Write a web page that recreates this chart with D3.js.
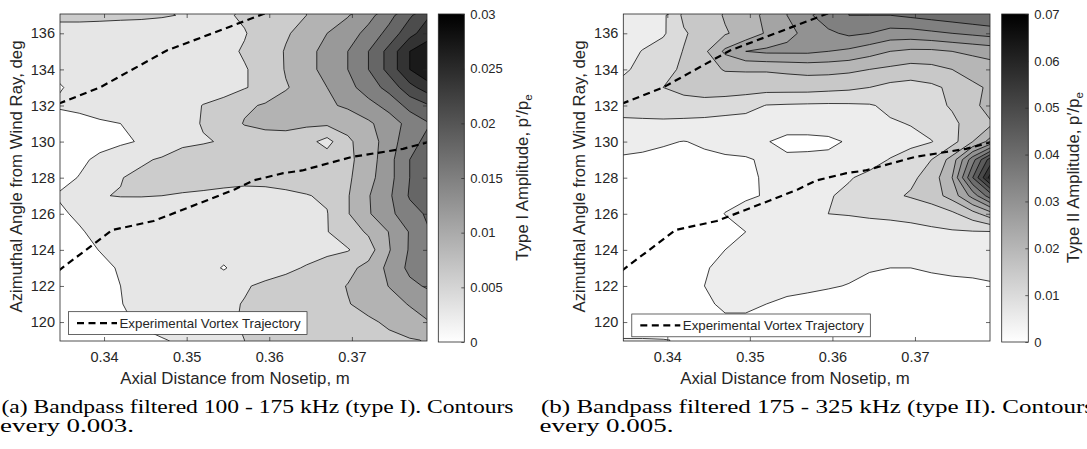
<!DOCTYPE html>
<html>
<head>
<meta charset="utf-8">
<script src="https://cdn.jsdelivr.net/npm/d3@7"></script>
<style>
  body { margin: 0; background: #fff; }
  svg { display: block; }
  text { font-family: "Liberation Sans", Arial, Helvetica, sans-serif; fill: #262626; }
  .caption { font-family: "Liberation Serif", "Times New Roman", serif; fill: #000; }
</style>
</head>
<body>
<svg id="fig" width="1087" height="449"></svg>
<script>
// measurement grid (axial distance in m, azimuthal angle in deg)
const gridX = [0.3345, 0.3370, 0.3395, 0.3420, 0.3445, 0.3470, 0.3495, 0.3520, 0.3545, 0.3570,
               0.3595, 0.3620, 0.3645, 0.3670, 0.3695, 0.3720, 0.3745, 0.3770, 0.3795];
const gridY = [137, 136, 135, 134, 133, 132, 131, 130, 129, 128, 127, 126, 125, 124, 123, 122, 121, 120, 119];
const AMP_UNIT = 0.001; // grid values below are in thousandths of p'/p_e

// type I amplitude (100 - 175 kHz), rows from 137 deg down to 119 deg
const ampTypeI = [
  [6.6, 6.6, 6.6, 6.5, 6.4, 6.2, 5.9, 5.2, 5.5, 6.5, 7.5, 8.5, 9.0, 10.5, 11.8, 14.0, 17.0, 20.5, 24.0],
  [5.0, 5.0, 4.8, 4.7, 4.7, 4.7, 4.6, 4.5, 5.0, 5.8, 7.5, 8.7, 10.0, 12.0, 13.5, 16.0, 19.0, 23.0, 26.0],
  [4.0, 4.3, 4.5, 4.5, 4.5, 4.5, 4.5, 4.6, 5.2, 6.3, 7.5, 9.2, 11.0, 13.0, 15.0, 18.0, 22.0, 27.0, 29.0],
  [3.5, 4.2, 4.5, 4.5, 4.5, 4.5, 4.5, 4.5, 4.8, 5.8, 7.0, 9.2, 11.0, 13.0, 15.0, 18.0, 22.0, 27.0, 30.0],
  [2.8, 3.6, 4.5, 4.5, 4.5, 4.5, 4.5, 4.5, 4.8, 5.8, 7.0, 8.8, 10.0, 12.0, 14.0, 16.5, 19.0, 23.0, 26.0],
  [3.3, 3.6, 4.0, 4.2, 4.3, 4.5, 4.8, 6.1, 7.0, 8.5, 9.3, 10.0, 10.5, 11.5, 12.5, 14.0, 16.0, 19.0, 21.0],
  [1.8, 2.2, 2.7, 3.0, 3.3, 4.1, 5.0, 6.2, 7.2, 9.2, 9.8, 10.0, 9.5, 9.5, 10.0, 11.5, 13.5, 16.0, 18.0],
  [1.5, 1.8, 2.2, 2.6, 3.2, 4.2, 5.5, 5.8, 6.2, 7.0, 7.5, 7.5, 7.0, 5.0, 8.5, 10.5, 13.5, 17.0, 19.0],
  [1.5, 2.5, 3.5, 4.5, 5.6, 6.3, 7.0, 7.3, 7.3, 7.0, 7.0, 7.2, 7.5, 7.5, 8.3, 10.5, 14.0, 18.0, 20.0],
  [2.2, 3.1, 5.0, 5.9, 6.6, 7.0, 7.0, 7.0, 6.8, 6.6, 6.6, 6.8, 7.0, 7.0, 8.5, 11.0, 14.0, 18.0, 21.0],
  [3.2, 4.5, 5.9, 6.1, 6.1, 6.0, 5.8, 5.6, 5.4, 5.3, 5.4, 5.6, 5.9, 6.3, 8.8, 11.8, 14.5, 18.3, 21.0],
  [2.5, 3.5, 4.2, 4.5, 4.6, 4.6, 4.6, 4.6, 4.6, 4.7, 4.8, 5.0, 5.2, 5.9, 8.8, 11.7, 14.2, 16.9, 18.6],
  [1.8, 2.7, 3.8, 4.3, 4.5, 4.5, 4.5, 4.5, 4.5, 4.6, 4.7, 4.9, 5.3, 5.9, 7.6, 9.4, 12.1, 15.2, 18.0],
  [1.5, 2.0, 3.1, 4.0, 4.5, 4.5, 4.5, 4.5, 4.5, 4.6, 4.7, 4.8, 5.0, 5.3, 5.8, 7.7, 11.8, 15.3, 18.2],
  [1.2, 1.5, 2.2, 3.3, 4.2, 4.5, 4.6, 4.5, 2.7, 4.7, 5.0, 5.5, 6.2, 7.2, 8.3, 9.8, 12.8, 15.7, 18.3],
  [1.2, 1.4, 2.0, 3.0, 4.0, 4.5, 4.6, 4.8, 5.2, 5.8, 6.4, 6.9, 7.4, 8.2, 9.1, 10.2, 12.1, 14.3, 15.5],
  [1.0, 1.3, 2.0, 2.9, 3.8, 4.4, 4.8, 5.3, 5.6, 6.1, 6.8, 7.2, 7.6, 8.2, 8.9, 9.6, 10.8, 12.2, 13.5],
  [1.0, 1.2, 1.8, 2.6, 3.3, 4.2, 4.9, 5.4, 5.8, 6.1, 6.6, 7.0, 7.4, 7.9, 8.3, 8.7, 9.3, 10.7, 12.0],
  [1.0, 1.2, 1.6, 2.1, 2.4, 2.8, 3.5, 4.5, 5.3, 6.0, 6.5, 6.9, 7.3, 7.7, 8.0, 8.3, 8.6, 8.8, 9.2]
];

// type II amplitude (175 - 325 kHz)
const ampTypeII = [
  [7.0, 7.5, 9.0, 16.0, 17.0, 20.5, 23.0, 26.0, 30.0, 34.0, 38.0, 40.0, 40.0, 40.0, 41.0, 42.0, 43.0, 44.0, 45.0],
  [7.0, 8.0, 9.3, 14.5, 17.0, 19.5, 22.0, 25.5, 29.0, 31.0, 34.0, 36.0, 35.0, 33.0, 33.0, 34.0, 35.0, 36.0, 37.0],
  [8.0, 10.2, 12.5, 15.2, 19.0, 26.0, 30.0, 31.0, 31.0, 31.0, 30.0, 29.0, 27.0, 25.0, 24.0, 24.0, 25.0, 26.0, 27.0],
  [9.3, 11.0, 13.5, 15.8, 18.5, 20.3, 20.5, 20.5, 21.0, 21.5, 21.5, 21.0, 20.0, 19.0, 18.0, 18.5, 20.0, 22.0, 23.0],
  [11.0, 13.0, 15.0, 16.5, 17.5, 17.5, 17.0, 17.0, 17.0, 17.0, 16.5, 16.0, 15.0, 13.5, 13.0, 14.0, 16.0, 19.0, 21.0],
  [12.0, 12.5, 13.0, 13.0, 13.0, 12.5, 12.0, 9.8, 9.5, 9.3, 9.2, 9.3, 9.6, 11.0, 12.5, 13.5, 15.5, 19.0, 22.0],
  [9.0, 9.0, 9.0, 8.8, 8.5, 8.0, 7.5, 7.5, 7.5, 7.5, 7.5, 7.8, 8.5, 9.5, 10.2, 12.0, 14.0, 17.0, 20.0],
  [6.5, 6.0, 5.4, 4.9, 5.5, 6.0, 6.0, 5.3, 3.5, 3.5, 4.0, 5.5, 7.0, 8.0, 8.8, 9.8, 13.0, 20.0, 28.0],
  [4.5, 4.3, 4.0, 4.0, 4.3, 4.6, 4.8, 5.3, 6.0, 6.2, 6.2, 6.5, 8.5, 10.2, 12.0, 15.0, 22.0, 38.0, 55.0],
  [3.5, 3.0, 3.0, 3.2, 3.5, 4.0, 4.5, 5.3, 6.5, 7.5, 8.5, 9.7, 11.0, 12.5, 14.0, 17.0, 25.0, 45.0, 65.0],
  [3.0, 2.5, 2.5, 2.7, 3.0, 3.8, 4.6, 5.2, 6.5, 8.0, 9.7, 10.8, 12.0, 14.0, 15.5, 17.5, 22.0, 32.0, 45.0],
  [2.5, 2.2, 2.2, 2.5, 3.0, 5.1, 6.0, 7.0, 8.0, 9.0, 10.0, 10.2, 10.5, 10.7, 11.0, 12.0, 14.0, 18.0, 24.0],
  [2.0, 2.0, 2.0, 2.2, 2.6, 3.5, 5.0, 6.0, 6.7, 7.3, 7.8, 8.2, 8.5, 8.7, 9.0, 9.2, 9.5, 9.7, 9.8],
  [2.0, 2.0, 2.0, 2.2, 3.5, 5.0, 5.8, 6.3, 6.7, 7.0, 7.2, 7.4, 7.5, 7.5, 7.5, 7.5, 7.5, 7.5, 7.5],
  [2.0, 1.8, 1.8, 2.5, 4.8, 5.6, 6.0, 6.2, 6.2, 6.1, 5.9, 5.6, 5.2, 5.0, 5.0, 5.3, 5.5, 5.5, 5.7],
  [2.0, 1.8, 1.8, 2.8, 5.0, 5.6, 5.8, 5.8, 5.7, 5.5, 5.2, 4.9, 4.4, 4.0, 4.0, 4.2, 4.4, 4.6, 4.8],
  [2.0, 1.8, 1.8, 2.5, 4.5, 5.5, 5.5, 5.0, 4.5, 4.2, 4.0, 3.8, 3.5, 3.4, 3.5, 3.7, 4.0, 4.2, 4.3],
  [3.0, 3.0, 3.0, 3.0, 3.5, 4.5, 4.5, 4.0, 3.8, 3.6, 3.5, 3.5, 3.5, 3.5, 3.5, 3.5, 3.6, 3.7, 3.8],
  [5.2, 5.2, 5.1, 4.8, 4.0, 3.8, 3.6, 3.5, 3.5, 3.5, 3.5, 3.5, 3.5, 3.5, 3.5, 3.5, 3.5, 3.5, 3.5]
];

// contour levels and colour limits
const levelsTypeI = [0.003, 0.006, 0.009, 0.012, 0.015, 0.018, 0.021, 0.024, 0.027];
const levelsTypeII = [0.005, 0.010, 0.015, 0.020, 0.025, 0.030, 0.035, 0.040, 0.045, 0.050, 0.055, 0.060, 0.065];
const cbTicksTypeI = [0, 0.005, 0.01, 0.015, 0.02, 0.025, 0.03];
const cbTicksTypeII = [0, 0.01, 0.02, 0.03, 0.04, 0.05, 0.06, 0.07];

// experimental vortex trajectory (two branches)
const trajUpperX = [0.3345, 0.3395, 0.3476, 0.3537, 0.3600];
const trajUpperY = [132.1, 133.0, 135.05, 136.1, 137.2];
const trajLowerX = [0.3345, 0.3410, 0.3460, 0.3525, 0.3558, 0.3581, 0.3617, 0.3640, 0.3700, 0.3762, 0.3795];
const trajLowerY = [122.85, 125.1, 125.6, 126.75, 127.35, 127.85, 128.25, 128.4, 129.15, 129.6, 130.0];

const xTicks = [0.34, 0.35, 0.36, 0.37];
const yTicks = [120, 122, 124, 126, 128, 130, 132, 134, 136];
const xDomain = [0.33467, 0.37909];
const yDomain = [118.95, 137.07];

const svg = d3.select("#fig");
const defs = svg.append("defs");
const grad = defs.append("linearGradient").attr("id", "cbgrad")
  .attr("x1", 0).attr("y1", 1).attr("x2", 0).attr("y2", 0);
grad.append("stop").attr("offset", 0).attr("stop-color", "#fff");
grad.append("stop").attr("offset", 1).attr("stop-color", "#000");

const axisColor = "#262626";

function drawPanel(p) {
  const x = d3.scaleLinear().domain(xDomain).range([p.left, p.right]);
  const y = d3.scaleLinear().domain(yDomain).range([p.bottom, p.top]);
  const color = d3.scaleLinear().domain([0, p.cmax]).range(["#ffffff", "#000000"]);

  defs.append("clipPath").attr("id", p.id + "clip")
    .append("rect").attr("x", p.left).attr("y", p.top)
    .attr("width", p.right - p.left).attr("height", p.bottom - p.top);

  const plot = svg.append("g").attr("clip-path", `url(#${p.id}clip)`);

  const nx = gridX.length, ny = gridY.length;
  const dx = gridX[1] - gridX[0], dy = gridY[1] - gridY[0];
  const values = p.grid.flat().map(v => v * AMP_UNIT);
  const contours = d3.contours().size([nx, ny]).thresholds([0].concat(p.levels))(values);

  const proj = d3.geoTransform({
    point: function (gx, gy) {
      this.stream.point(x(gridX[0] + (gx - 0.5) * dx), y(gridY[0] + (gy - 0.5) * dy));
    }
  });
  const path = d3.geoPath(proj);

  contours.forEach((c, i) => {
    plot.append("path")
      .attr("d", path(c))
      .attr("fill", color(c.value))
      .attr("stroke", i === 0 ? "none" : "#000")
      .attr("stroke-width", 0.75)
      .attr("stroke-linejoin", "round");
  });

  const line = d3.line().x(d => x(d[0])).y(d => y(d[1]));
  [[trajUpperX, trajUpperY], [trajLowerX, trajLowerY]].forEach(([tx, ty]) => {
    plot.append("path")
      .datum(tx.map((v, i) => [v, ty[i]]))
      .attr("d", line)
      .attr("fill", "none")
      .attr("stroke", "#000")
      .attr("stroke-width", 2.2)
      .attr("stroke-dasharray", "7,4.5");
  });

  // axes, ticks pointing inward
  const gx = svg.append("g").attr("transform", `translate(0,${p.bottom})`)
    .call(d3.axisBottom(x).tickValues(xTicks).tickSize(-4).tickPadding(11).tickFormat(d3.format(".2f")));
  svg.append("g").attr("transform", `translate(0,${p.top})`)
    .call(d3.axisTop(x).tickValues(xTicks).tickSize(-4).tickFormat(""));
  const gy = svg.append("g").attr("transform", `translate(${p.left},0)`)
    .call(d3.axisLeft(y).tickValues(yTicks).tickSize(-4).tickPadding(5));
  svg.append("g").attr("transform", `translate(${p.right},0)`)
    .call(d3.axisRight(y).tickValues(yTicks).tickSize(-4).tickFormat(""));
  svg.selectAll(".domain").remove();
  svg.selectAll(".tick line").attr("stroke", axisColor).attr("stroke-width", 0.7);
  [gx, gy].forEach(g => g.selectAll("text")
    .attr("font-size", 14.5).attr("fill", axisColor)
    .style("font-family", "'Liberation Sans', Arial, sans-serif"));

  svg.append("rect")
    .attr("x", p.left).attr("y", p.top)
    .attr("width", p.right - p.left).attr("height", p.bottom - p.top)
    .attr("fill", "none").attr("stroke", axisColor).attr("stroke-width", 0.8);

  svg.append("text")
    .attr("x", p.xLabelX).attr("y", 384)
    .attr("text-anchor", "middle").attr("font-size", 16.8)
    .text("Axial Distance from Nosetip, m");

  svg.append("text")
    .attr("transform", `translate(${p.left - 38},${(p.top + p.bottom) / 2 - 1}) rotate(-90)`)
    .attr("text-anchor", "middle").attr("font-size", 16.8)
    .text("Azimuthal Angle from Wind Ray, deg");

  // legend
  const lg = svg.append("g");
  lg.append("rect")
    .attr("x", p.left + 8.5).attr("y", p.legendTop)
    .attr("width", 238.5).attr("height", 22.8)
    .attr("fill", "#fff").attr("stroke", axisColor).attr("stroke-width", 0.7);
  const ly = p.legendTop + 11.4;
  lg.append("line")
    .attr("x1", p.left + 17).attr("x2", p.left + 57)
    .attr("y1", ly).attr("y2", ly)
    .attr("stroke", "#000").attr("stroke-width", 2.2).attr("stroke-dasharray", "7,4.5");
  lg.append("text")
    .attr("x", p.left + 59.5).attr("y", ly + 4.6)
    .attr("font-size", 13.3).attr("fill", "#000")
    .text("Experimental Vortex Trajectory");

  // colorbar
  const cb = d3.scaleLinear().domain([0, p.cmax]).range([p.bottom + 1, p.top]);
  svg.append("rect")
    .attr("x", p.cbLeft).attr("y", p.top)
    .attr("width", p.cbRight - p.cbLeft).attr("height", p.bottom + 1 - p.top)
    .attr("fill", "url(#cbgrad)").attr("stroke", axisColor).attr("stroke-width", 0.8);
  const gcb = svg.append("g").attr("transform", `translate(${p.cbRight},0)`)
    .call(d3.axisRight(cb).tickValues(p.cbTicks).tickSize(-3).tickPadding(6).tickFormat(d => String(d)));
  gcb.select(".domain").remove();
  gcb.selectAll(".tick line").attr("stroke", axisColor).attr("stroke-width", 0.7);
  gcb.selectAll("text").attr("font-size", 13).attr("fill", axisColor)
    .style("font-family", "'Liberation Sans', Arial, sans-serif");

  const cbl = svg.append("text")
    .attr("transform", `translate(${p.cbLabelX},${(p.top + p.bottom) / 2}) rotate(-90)`)
    .attr("text-anchor", "middle").attr("font-size", 16.8);
  cbl.append("tspan").text(p.cbLabel + " Amplitude, p\u2032/p");
  cbl.append("tspan").attr("font-size", 11.5).attr("dy", 4).text("e");

  // caption
  svg.append("text").attr("class", "caption")
    .attr("x", p.capX).attr("y", 412.5).attr("font-size", 18)
    .attr("textLength", p.capLen).attr("lengthAdjust", "spacingAndGlyphs")
    .text(p.caption1);
  svg.append("text").attr("class", "caption")
    .attr("x", p.capX - 1.5).attr("y", 432).attr("font-size", 18)
    .attr("textLength", 134).attr("lengthAdjust", "spacingAndGlyphs")
    .text(p.caption2);
}

drawPanel({
  id: "a", left: 60, right: 427, top: 14, bottom: 341,
  grid: ampTypeI, levels: levelsTypeI, cmax: 0.03, cbTicks: cbTicksTypeI,
  cbLeft: 438.3, cbRight: 464.3, cbLabelX: 528, cbLabel: "Type I",
  xLabelX: 235, legendTop: 311.7,
  capX: 1.5, capLen: 512,
  caption1: "(a) Bandpass filtered 100 - 175 kHz (type I). Contours",
  caption2: "every 0.003."
});

drawPanel({
  id: "b", left: 623.3, right: 990, top: 14, bottom: 341,
  grid: ampTypeII, levels: levelsTypeII, cmax: 0.07, cbTicks: cbTicksTypeII,
  cbLeft: 1001.7, cbRight: 1028.3, cbLabelX: 1079, cbLabel: "Type II",
  xLabelX: 795, legendTop: 314,
  capX: 541, capLen: 553,
  caption1: "(b) Bandpass filtered 175 - 325 kHz (type II). Contours",
  caption2: "every 0.005."
});
</script>
</body>
</html>
